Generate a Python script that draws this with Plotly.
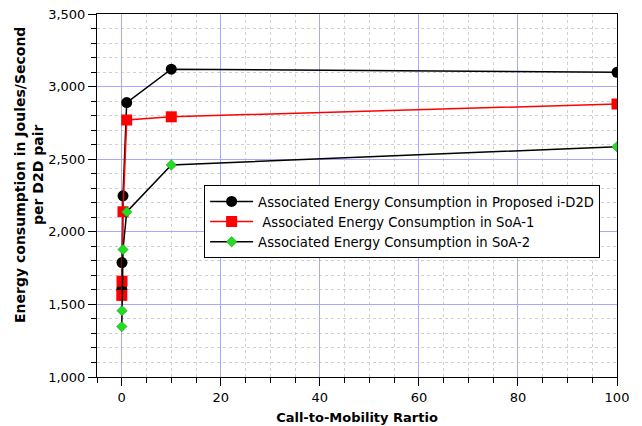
import plotly.graph_objects as go

cmr = [0.01, 0.05, 0.25, 1, 10, 100]
proposed = [1605, 1788, 2248, 2890, 3120, 3098]
soa1 = [1562, 1660, 2138, 2770, 2792, 2880]
soa2 = [1347, 1457, 1878, 2137, 2460, 2586]

names = ["Associated Energy Consumption in Proposed i-D2D",
         " Associated Energy Consumption in SoA-1",
         "Associated Energy Consumption in SoA-2"]
x_title = "Call-to-Mobility Rartio"
y_title = "Energy consumption in Joules/Second<br>per D2D pair"

fig = go.Figure()
fig.add_trace(go.Scatter(x=cmr, y=proposed, name=names[0], mode="lines+markers",
                         line=dict(color="black", width=1.5),
                         marker=dict(symbol="circle", size=11, color="black")))
fig.add_trace(go.Scatter(x=cmr, y=soa1, name=names[1], mode="lines+markers",
                         line=dict(color="red", width=1.5),
                         marker=dict(symbol="square", size=11, color="red")))
fig.add_trace(go.Scatter(x=cmr, y=soa2, name=names[2], mode="lines+markers",
                         line=dict(color="black", width=1.5),
                         marker=dict(symbol="diamond", size=8, color="#22dd22",
                                     line=dict(color="#118811", width=0.5))))

font = "DejaVu Sans, sans-serif"
fig.update_layout(
    width=642, height=426,
    margin=dict(l=97, r=25, t=14, b=49),
    paper_bgcolor="white", plot_bgcolor="white",
    font=dict(family=font, size=13, color="black"),
    legend=dict(x=0.206, y=0.528, xanchor="left", yanchor="top",
                bgcolor="white", bordercolor="black", borderwidth=1,
                font=dict(size=13.2), tracegroupgap=0, itemwidth=43),
    xaxis=dict(range=[-5, 100], dtick=20, tick0=0, automargin=False,
               showline=True, linecolor="black", linewidth=1, mirror=True,
               ticks="outside", ticklen=8, tickcolor="black",
               showgrid=True, gridcolor="#a8a8ff", gridwidth=1, zeroline=False,
               minor=dict(dtick=5, tick0=0, ticks="outside", ticklen=5, tickcolor="black",
                          showgrid=True, gridcolor="#d0d0d0", griddash="dot"),
               title=dict(text="<b>" + x_title + "</b>", font=dict(size=13), standoff=9)),
    yaxis=dict(range=[1000, 3500], dtick=500, tickformat=",", automargin=False,
               showline=True, linecolor="black", linewidth=1, mirror=True,
               ticks="outside", ticklen=8, tickcolor="black",
               showgrid=True, gridcolor="#a8a8ff", gridwidth=1, zeroline=False,
               minor=dict(dtick=100, ticks="outside", ticklen=5, tickcolor="black",
                          showgrid=True, gridcolor="#d0d0d0", griddash="dot")),
    annotations=[dict(text="<b>" + y_title + "</b>", xref="paper", yref="paper",
                      x=-0.1308, y=0.5565, xanchor="center", yanchor="middle",
                      textangle=-90, showarrow=False, font=dict(size=14))],
)
fig.write_html("out.html", config={"displayModeBar": False},
               post_script="document.body.style.margin='0';")
